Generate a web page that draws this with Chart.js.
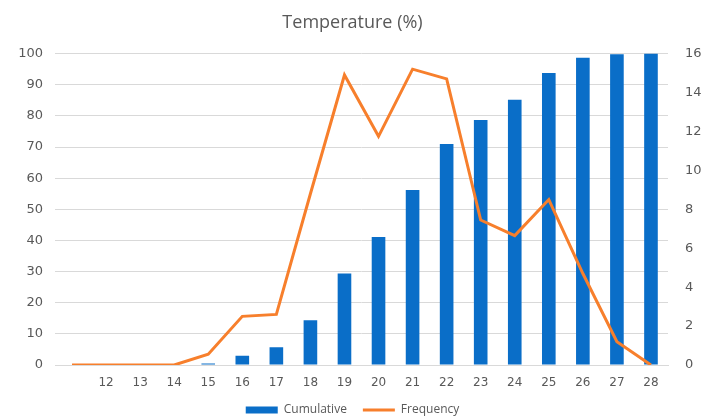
<!DOCTYPE html>
<html>
<head>
<meta charset="utf-8">
<script src="https://cdn.jsdelivr.net/npm/chart.js@4/dist/chart.umd.min.js"></script>
<style>
    html, body { margin: 0; padding: 0; background: #ffffff; }
    #wrap { width: 705px; height: 416px; }
</style>
</head>
<body>
<div id="wrap"><canvas id="temp-chart"></canvas></div>
<script>
// Temperature distribution: cumulative share (bars) and frequency (line)
const categories = ['', '12', '13', '14', '15', '16', '17', '18', '19', '20',
                    '21', '22', '23', '24', '25', '26', '27', '28'];
const cumulative = [0, 0, 0, 0, 0.5, 3.0, 5.7, 14.4, 29.4, 41.1,
                    56.2, 71.0, 78.7, 85.2, 93.8, 98.7, 99.8, 100];
const frequency = [0, 0, 0, 0, 0.55, 2.5, 2.6, 8.8, 14.9, 11.75,
                   15.2, 14.7, 7.45, 6.65, 8.5, 4.7, 1.2, 0];
const leftTicks = [0, 10, 20, 30, 40, 50, 60, 70, 80, 90, 100];
const rightTicks = [0, 2, 4, 6, 8, 10, 12, 14, 16];

const textColor = '#595959';
const titleFont = '"Open Sans", sans-serif';
const tickFont = '"DejaVu Sans", sans-serif';

new Chart(document.getElementById('temp-chart'), {
    data: {
        labels: categories,
        datasets: [{
            type: 'line',
            label: 'Frequency',
            data: frequency,
            yAxisID: 'yRight',
            borderColor: '#F77F2C',
            backgroundColor: '#F77F2C',
            borderWidth: 3,
            pointRadius: 0,
            pointStyle: 'line',
            tension: 0,
            order: 0
        }, {
            type: 'bar',
            label: 'Cumulative',
            data: cumulative,
            yAxisID: 'yLeft',
            backgroundColor: '#0A6EC8',
            borderWidth: 0,
            pointStyle: 'rect',
            barPercentage: 0.4,
            categoryPercentage: 1.0,
            order: 1
        }]
    },
    options: {
        responsive: true,
        maintainAspectRatio: false,
        animation: false,
        layout: {
            padding: { left: 0, right: 0, top: 0, bottom: -10 }
        },
        plugins: {
            title: {
                display: true,
                text: 'Temperature (%)',
                color: textColor,
                font: { family: titleFont, size: 18, weight: 'normal' },
                padding: { top: 12, bottom: 20 }
            },
            legend: {
                position: 'bottom',
                reverse: true,
                labels: {
                    usePointStyle: true,
                    pointStyleWidth: 32,
                    boxHeight: 7,
                    padding: 16,
                    color: textColor,
                    font: { family: titleFont, size: 12 }
                }
            },
            tooltip: { enabled: false }
        },
        scales: {
            x: {
                grid: { display: false, drawTicks: false },
                border: { display: true, color: '#D9D9D9' },
                ticks: {
                    color: textColor,
                    padding: 11,
                    maxRotation: 0,
                    autoSkip: false,
                    font: { family: tickFont, size: 12 }
                },
                afterFit: function(axis) { axis.height = 23; }
            },
            yLeft: {
                position: 'left',
                min: 0,
                max: 100,
                afterBuildTicks: function(axis) {
                    axis.ticks = leftTicks.map(v => ({ value: v }));
                },
                grid: { color: '#D9D9D9', drawTicks: false },
                border: { display: false },
                ticks: {
                    color: textColor,
                    padding: 12,
                    font: { family: tickFont, size: 13 }
                },
                afterFit: function(axis) { axis.width = 55; }
            },
            yRight: {
                position: 'right',
                min: 0,
                max: 16,
                afterBuildTicks: function(axis) {
                    axis.ticks = rightTicks.map(v => ({ value: v }));
                },
                grid: { display: false, drawTicks: false },
                border: { display: false },
                ticks: {
                    color: textColor,
                    padding: 17,
                    font: { family: tickFont, size: 13 }
                },
                afterFit: function(axis) { axis.width = 37; }
            }
        }
    }
});
</script>
</body>
</html>
